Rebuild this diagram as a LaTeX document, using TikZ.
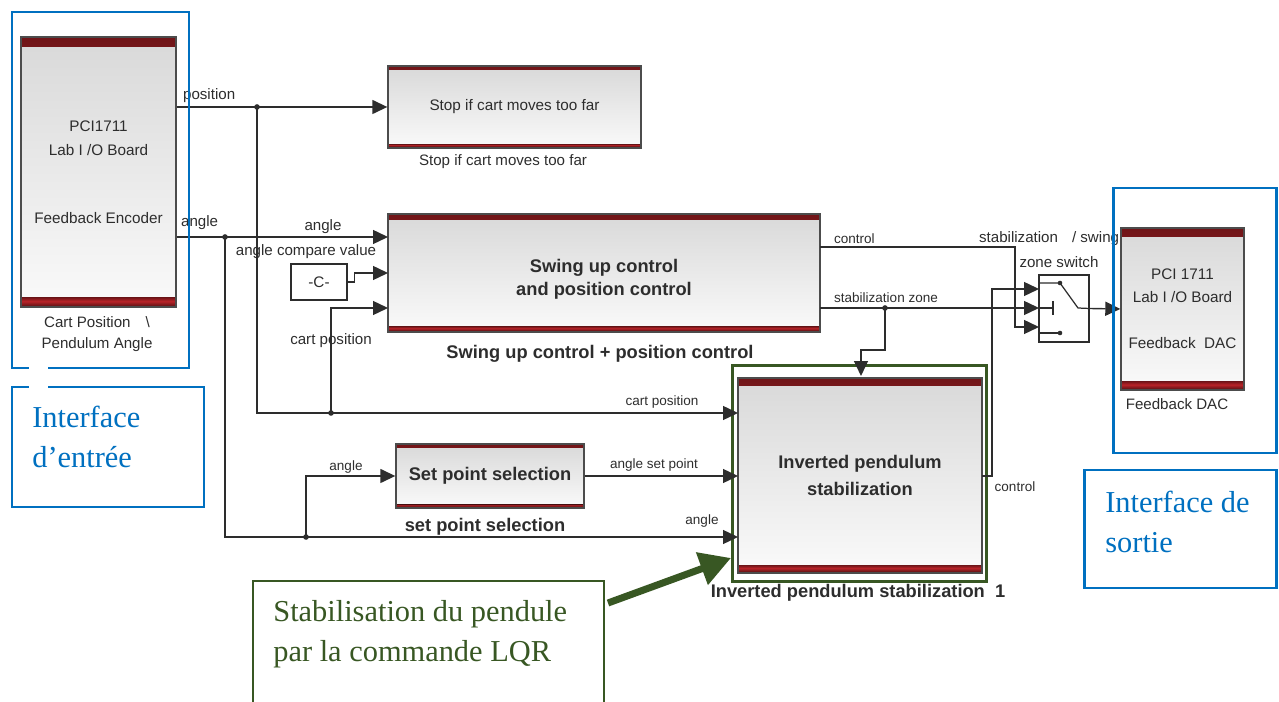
\documentclass[tikz,border=0pt]{standalone}
\usepackage{fontspec}
\setmainfont{Liberation Sans}
\newfontfamily\notefont{Liberation Serif}
\usetikzlibrary{arrows.meta}

\definecolor{frameblue}{RGB}{0,112,192}
\definecolor{notegreen}{RGB}{56,87,35}
\definecolor{inkgray}{RGB}{45,45,45}
\definecolor{barred}{RGB}{185,35,40}

\newcommand{\skblock}{\fontsize{8.7}{10.4}\selectfont}
\newcommand{\sklabel}{\fontsize{8.6}{10}\selectfont}
\newcommand{\sktiny}{\fontsize{7.7}{9}\selectfont}
\newcommand{\sktitle}{\bfseries\fontsize{10.4}{13}\selectfont}
\newcommand{\sknote}{\notefont\fontsize{17.3}{22.5}\selectfont}

\tikzset{
  simblock/.style={draw=black!70, line width=0.8pt, top color=black!15, bottom color=black!2,
    inner sep=0pt, align=center, text=inkgray},
  redbar/.style={top color=barred!60!black, bottom color=barred!60!black, middle color=barred},
  redbars/.style={path picture={
      \shade[redbar] ([yshift=-1pt]path picture bounding box.north west) rectangle ([yshift=-1pt-#1]path picture bounding box.north east);
      \shade[redbar] ([yshift=1pt]path picture bounding box.south west) rectangle ([yshift=1pt+#1]path picture bounding box.south east);}},
  sig/.style={draw=inkgray, line width=0.8pt, -{Triangle[length=0.3cm,width=0.28cm]}},
  sigtext/.style={font=\sklabel, text=inkgray, inner sep=1pt},
  tinytext/.style={font=\sktiny, text=inkgray, inner sep=1pt},
  titletext/.style={font=\sktitle, text=inkgray, inner sep=1pt},
  blueframe/.style={draw=frameblue, line width=1.7pt},
  greenframe/.style={draw=notegreen, line width=1.7pt},
  notetext/.style={font=\sknote, anchor=west, align=left, inner sep=0pt},
}

\begin{document}
\begin{tikzpicture}[x=0.02cm, y=-0.02cm]
  \useasboundingbox (0,0) rectangle (1279,702);

  % blocks
  \node[simblock, redbars=4.5pt, minimum width=3.1cm, minimum height=5.4cm,
    font={\fontsize{8.7}{13.6}\selectfont}] (pciin) at (98.5,172)
    {PCI1711\\Lab I /O Board\\[0.88cm]Feedback Encoder};
  \node[simblock, redbars=1.2pt, minimum width=5.06cm, minimum height=1.64cm,
    font=\skblock] (stop) at (514.5,107) {\raisebox{-2pt}{Stop if cart moves too far}};
  \node[simblock, redbars=2.2pt, minimum width=8.64cm, minimum height=2.36cm,
    label={[name=swingtext, titletext, align=center, yshift=-0.13cm]center:Swing up control\\and position control}]
    (swing) at (604,273) {};
  \node[draw=inkgray, line width=0.7pt, minimum width=1.12cm, minimum height=0.72cm,
    inner sep=0pt, font=\skblock, text=inkgray] (cconst) at (319,282) {-C-};
  \node[simblock, redbars=1pt, minimum width=3.76cm, minimum height=1.28cm,
    font=\sktitle] (setpt) at (490,476) {Set point selection};
  \node[simblock, redbars=3.5pt, minimum width=4.88cm, minimum height=3.9cm,
    font={\bfseries\fontsize{10.4}{15.3}\selectfont}] (stab) at (860,475.5)
    {Inverted pendulum\\stabilization};
  \node[greenframe, minimum width=5.1cm, minimum height=4.34cm] (stabframe) at (859.5,473.5) {};
  \node[draw=inkgray, line width=0.7pt, fill=white, minimum width=1cm, minimum height=1.34cm]
    (switch) at (1064,308.5) {};
  \node[simblock, redbars=4pt, minimum width=2.46cm, minimum height=3.24cm,
    font={\fontsize{8.7}{13}\selectfont}] (pciout) at (1182.5,309)
    {PCI 1711\\Lab I /O Board\\[0.46cm]Feedback\ \ DAC};

  % ports and branch points
  \coordinate (jpos) at (257,107);
  \coordinate (jang) at (225,237);
  \coordinate (jcart) at (331,413);
  \coordinate (jset) at (306,537);
  \coordinate (jzone) at (885,308);
  \coordinate (swin1) at (388,237);
  \coordinate (swin2) at (388,273);
  \coordinate (swin3) at (388,308);
  \coordinate (swout1) at (820,247);
  \coordinate (swout2) at (820,308);
  \coordinate (stin1) at (738,413);
  \coordinate (stin2) at (738,476);
  \coordinate (stin3) at (738,537);
  \coordinate (stout) at (982,476);
  \coordinate (sttop) at (861,376);
  \coordinate (swi1) at (1039,289);
  \coordinate (swi2) at (1039,308);
  \coordinate (swi3) at (1039,327);

  % signals
  \draw[sig] (pciin.east |- jpos) -- (stop.west);
  \draw[sig] (jpos) |- (stin1);
  \draw[sig] (jcart) |- (swin3);
  \draw[sig] (pciin.east |- jang) -- (swin1);
  \draw[sig] (jang) |- (stin3);
  \draw[sig] (jset) |- (setpt.west);
  \draw[sig] (setpt.east) -- (stin2);
  \draw[sig] (cconst.east) -- ++(7,0) |- (swin2);
  \draw[sig] (swout1) -- ++(195,0) |- (swi3);
  \draw[sig] (swout2) -- (swi2);
  \draw[sig] (jzone) -- ++(0,42) -| (sttop);
  \draw[sig] (stout) -- ++(10,0) |- (swi1);
  \draw[sig] (switch.east) -- (pciout.west);
  \foreach \j in {jpos,jang,jcart,jset,jzone}
    \fill[inkgray] (\j) circle (1.6pt);

  % switch contacts
  \draw[inkgray, line width=0.7pt] (1039,283) -- (1060,283) -- (1078,308) -- (switch.east);
  \draw[inkgray, line width=0.7pt] (1039,308) -- (1053,308) (1053,301) -- (1053,315);
  \draw[inkgray, line width=0.7pt] (1039,333) -- (1060,333);
  \fill[inkgray] (1060,283) circle (1.3pt) (1060,333) circle (1.3pt);

  % labels
  \node[sigtext, anchor=west] (lpos) at (181,96) {position};
  \node[sigtext, anchor=west] (lang) at (179,223) {angle};
  \node[sigtext] (lswang) at (323,227) {angle};
  \node[sigtext] (lcmp) at (306,252) {angle compare value};
  \node[sigtext] (lswcart) at (331,341) {cart position};
  \node[sigtext] (lcartpos) at (97,322) {Cart Position\hspace{0.3cm}\textbackslash};
  \node[sigtext] (lpend) at (97,345) {Pendulum Angle};
  \node[sigtext] (lstop) at (503,162) {Stop if cart moves too far};
  \node[titletext] (lswing) at (600,354) {Swing up control + position control};
  \node[tinytext, anchor=west] (lctrl) at (832,239) {control};
  \node[tinytext, anchor=west] (lzone) at (832,298) {stabilization zone};
  \node[sigtext, anchor=west] (lstsw) at (977,239) {stabilization\hspace{0.28cm}/ swing};
  \node[sigtext] (lzsw) at (1059,262) {zone switch};
  \node[sigtext] (ldac) at (1177,404) {Feedback DAC};
  \node[tinytext] (lstcart) at (662,402) {cart position};
  \node[tinytext] (lsetang) at (346,467) {angle};
  \node[tinytext] (lsetpt) at (654,465) {angle set point};
  \node[tinytext] (lstang) at (702,521) {angle};
  \node[titletext] (lsetsel) at (485,527) {set point selection};
  \node[tinytext] (lstctrl) at (1015,487) {control};
  \node[titletext] (lstab) at (858,593) {Inverted pendulum stabilization\ \ 1};

  % interface frames
  \draw[blueframe] (12,12) rectangle (189,368);
  \draw[blueframe] (12,387) rectangle (204,507);
  \fill[white] (29,363) rectangle (48,392);
  \draw[blueframe] (1113,188) rectangle (1276,453);
  \draw[blueframe] (1084,470) rectangle (1276,588);
  \node[notetext, text=frameblue] (innote) at (32,437) {Interface\\d’entrée};
  \node[notetext, text=frameblue] (outnote) at (1105,522) {Interface de\\sortie};

  % LQR note
  \draw[greenframe] (253,712) -- (253,581) -- (604,581) -- (604,712);
  \node[notetext, text=notegreen] (lqrnote) at (273,634) {Stabilisation du pendule\\par la commande LQR};
  \coordinate (lqrtail) at (608,603);
  \coordinate (lqrhead) at (731,558);
  \draw[notegreen, line width=4pt, -{Triangle[length=0.62cm,width=0.66cm]}] (lqrtail) -- (lqrhead);
\end{tikzpicture}
\end{document}
